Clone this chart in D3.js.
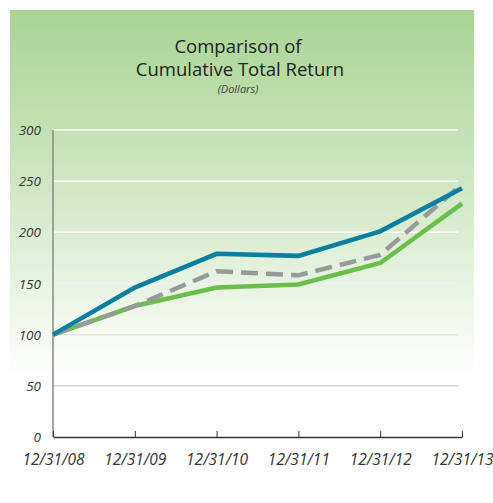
<!DOCTYPE html>
<html lang="en">
	<head>
		<meta charset="utf-8">
		<title>Comparison of Cumulative Total Return</title>
		<script type="text/javascript" src="https://cdnjs.cloudflare.com/ajax/libs/d3/7.8.5/d3.min.js"></script>
		<style type="text/css">
			body { margin:0; background:#ffffff; }
			text { font-family:"Open Sans", "Noto Sans", sans-serif; }
		</style>
	</head>
	<body>
		<script type="text/javascript">
			// chart data
			var dates = ["12/31/08", "12/31/09", "12/31/10", "12/31/11", "12/31/12", "12/31/13"];
			var yTicks = [0, 50, 100, 150, 200, 250, 300];
			var company = [100, 146, 179, 177, 201, 243];   // teal
			var peerIndex = [100, 128, 162, 158, 178, 247]; // grey dashed
			var marketIndex = [100, 128, 146, 149, 170, 228]; // green

			var w = 493;
			var h = 503;

			var svg = d3.select("body")
						.append("svg")
						.attr("width", w)
						.attr("height", h);

			// green background panel fading to white
			var grad = svg.append("defs").append("linearGradient")
				.attr("id", "bg")
				.attr("x1", 0).attr("y1", 0).attr("x2", 0).attr("y2", 1);
			grad.append("stop").attr("offset", "0%").attr("stop-color", "#a8d493");
			grad.append("stop").attr("offset", "45%").attr("stop-color", "#cde6c0");
			grad.append("stop").attr("offset", "100%").attr("stop-color", "#ffffff");

			svg.append("rect")
			   .attr("x", 10).attr("y", 10)
			   .attr("width", 464).attr("height", 368)
			   .attr("fill", "url(#bg)");

			// titles
			svg.append("text").text("Comparison of")
			   .attr("x", 238).attr("y", 53)
			   .attr("text-anchor", "middle")
			   .attr("font-size", "18.5px").attr("fill", "#222");
			svg.append("text").text("Cumulative Total Return")
			   .attr("x", 240).attr("y", 76)
			   .attr("text-anchor", "middle")
			   .attr("font-size", "18.5px").attr("fill", "#222");
			svg.append("text").text("(Dollars)")
			   .attr("x", 238).attr("y", 93)
			   .attr("text-anchor", "middle")
			   .attr("font-style", "italic")
			   .attr("font-size", "11px").attr("fill", "#444");

			var x = d3.scalePoint()
					  .domain(dates)
					  .range([53, 462]);
			var y = d3.scaleLinear()
					  .domain([0, 300])
					  .range([437, 130]);

			// gridlines: white on green, light grey lower down
			var gridColor = d3.scaleLinear().domain([50, 200]).range(["#d6d6d6", "#ffffff"]).clamp(true);
			svg.selectAll("line.grid")
			   .data(yTicks.filter(function(d) { return d > 0; }))
			   .enter()
			   .append("line")
			   .attr("class", "grid")
			   .attr("x1", 53).attr("x2", 458)
			   .attr("y1", function(d) { return y(d); })
			   .attr("y2", function(d) { return y(d); })
			   .attr("stroke", function(d) { return gridColor(d); })
			   .attr("stroke-width", 1.5);

			// y labels
			svg.selectAll("text.ylab")
			   .data(yTicks)
			   .enter()
			   .append("text")
			   .attr("class", "ylab")
			   .text(function(d) { return d; })
			   .attr("x", 41)
			   .attr("y", function(d) { return y(d) + 5; })
			   .attr("text-anchor", "end")
			   .attr("font-style", "italic")
			   .attr("font-size", "13.5px")
			   .attr("fill", "#333");

			// y axis line
			svg.append("line")
			   .attr("x1", 53).attr("x2", 53)
			   .attr("y1", y(300)).attr("y2", y(0))
			   .attr("stroke", "#888").attr("stroke-width", 1.5);

			// x axis
			var xAxis = svg.append("g")
						   .attr("transform", "translate(0," + y(0) + ")")
						   .call(d3.axisBottom(x).tickSize(-6).tickSizeOuter(0).tickPadding(17));
			xAxis.select(".domain").attr("stroke", "#333").attr("stroke-width", 1.5);
			xAxis.selectAll(".tick line").attr("stroke", "#333").attr("stroke-width", 1);
			xAxis.selectAll(".tick text")
				 .attr("font-family", "'Open Sans', 'Noto Sans', sans-serif")
				 .attr("font-style", "italic")
				 .attr("font-size", "15.5px")
				 .attr("fill", "#333");

			var line = d3.line()
						 .x(function(d, i) { return x(dates[i]); })
						 .y(function(d) { return y(d); });

			svg.append("path").datum(marketIndex)
			   .attr("d", line)
			   .attr("fill", "none")
			   .attr("stroke", "#6abf4b")
			   .attr("stroke-width", 4.5);

			svg.append("path").datum(peerIndex)
			   .attr("d", line)
			   .attr("fill", "none")
			   .attr("stroke", "#97999b")
			   .attr("stroke-width", 4.5)
			   .attr("stroke-dasharray", "17,8");

			svg.append("path").datum(company)
			   .attr("d", line)
			   .attr("fill", "none")
			   .attr("stroke", "#0b7fa0")
			   .attr("stroke-width", 4.5);
		</script>
	</body>
</html>
